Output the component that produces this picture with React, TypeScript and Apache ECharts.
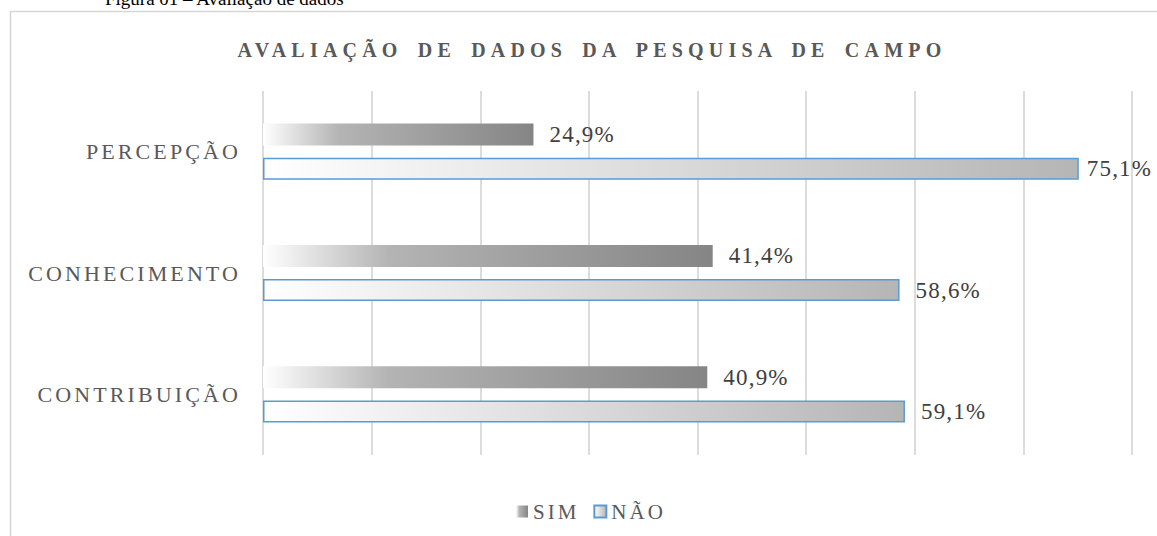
import React, { useEffect, useRef } from 'react';
import * as echarts from 'echarts';

const categories = ['PERCEPÇÃO', 'CONHECIMENTO', 'CONTRIBUIÇÃO'];
const simValues = [24.9, 41.4, 40.9];
const naoValues = [75.1, 58.6, 59.1];
const seriesNames = ['SIM', 'NÃO'];
const axisMin = 0;
const axisMax = 80;
const axisInterval = 10;
const chartTitle = 'AVALIAÇÃO DE DADOS DA PESQUISA DE CAMPO';
const caption = 'Figura 01 – Avaliação de dados';

const fmt = (v: number) => v.toFixed(1).replace('.', ',') + '%';
const SERIF = 'Liberation Serif';

export default function App() {
  const ref = useRef<HTMLDivElement>(null);

  useEffect(() => {
    const el = ref.current!;
    const chart = echarts.init(el, null, { renderer: 'svg' });

    const simGrad = new echarts.graphic.LinearGradient(0, 0, 1, 0, [
      { offset: 0, color: '#ffffff' },
      { offset: 0.28, color: '#b4b4b4' },
      { offset: 1, color: '#858585' },
    ]);
    const naoGrad = new echarts.graphic.LinearGradient(0, 0, 1, 0, [
      { offset: 0, color: '#ffffff' },
      { offset: 1, color: '#b5b5b5' },
    ]);

    const applySpacing = () => {
      el.querySelectorAll('text').forEach((t) => {
        const s = (t.textContent || '').trim();
        if (s === chartTitle) {
          t.style.letterSpacing = '5.2px';
          t.style.wordSpacing = '5px';
        } else if (categories.includes(s)) {
          t.style.letterSpacing = '3.1px';
        } else if (seriesNames.includes(s)) {
          t.style.letterSpacing = '3px';
        } else if (s.endsWith('%')) {
          t.style.letterSpacing = '1.2px';
        }
      });
    };

    chart.on('finished', applySpacing);

    chart.setOption({
      animation: false,
      backgroundColor: '#ffffff',
      graphic: [
        {
          type: 'rect',
          silent: true,
          shape: { x: 10.5, y: 11.5, width: 1300, height: 700 },
          style: { fill: 'none', stroke: '#d6d6d6', lineWidth: 1.5 },
        },
        {
          type: 'text',
          x: 105,
          y: 8,
          silent: true,
          style: {
            text: caption,
            font: '19px ' + SERIF,
            fill: '#000000',
            align: 'left',
            verticalAlign: 'bottom',
          },
        },
        {
          type: 'text',
          x: 592,
          y: 50,
          silent: true,
          style: {
            text: chartTitle,
            font: 'bold 20px ' + SERIF,
            fill: '#595959',
            align: 'center',
            verticalAlign: 'middle',
          },
        },
      ],
      legend: {
        data: seriesNames,
        left: 511,
        top: 496,
        icon: 'rect',
        itemWidth: 12,
        itemHeight: 12,
        itemGap: 23,
        textStyle: { fontFamily: SERIF, fontSize: 21, color: '#595959' },
      },
      grid: { left: 263, right: 25, top: 91, bottom: 81, containLabel: false },
      xAxis: {
        type: 'value',
        min: axisMin,
        max: axisMax,
        interval: axisInterval,
        axisLabel: { show: false },
        axisLine: { show: false },
        axisTick: { show: false },
        splitLine: { show: true, lineStyle: { color: '#d0d0d0', width: 1.5 } },
      },
      yAxis: {
        type: 'category',
        data: categories,
        inverse: true,
        axisLine: { show: false },
        axisTick: { show: false },
        axisLabel: {
          margin: 22,
          fontFamily: SERIF,
          fontSize: 22,
          color: '#595959',
        },
      },
      series: [
        {
          name: seriesNames[0],
          type: 'bar',
          data: simValues,
          barWidth: 22,
          barGap: '55%',
          itemStyle: { color: simGrad },
          label: {
            show: true,
            position: 'right',
            distance: 16,
            formatter: (p: any) => fmt(p.value),
            fontFamily: SERIF,
            fontSize: 23,
            color: '#404040',
          },
        },
        {
          name: seriesNames[1],
          type: 'bar',
          data: naoValues.map((v) => (v > 70 ? { value: v, label: { distance: 8 } } : v)),
          barWidth: 22,
          barGap: '55%',
          itemStyle: { color: naoGrad, borderColor: '#5b9bd5', borderWidth: 1.5 },
          label: {
            show: true,
            position: 'right',
            distance: 16,
            formatter: (p: any) => fmt(typeof p.value === 'number' ? p.value : p.data.value),
            fontFamily: SERIF,
            fontSize: 23,
            color: '#404040',
          },
        },
      ],
    });

    applySpacing();
    const t = setTimeout(applySpacing, 50);

    return () => {
      clearTimeout(t);
      chart.dispose();
    };
  }, []);

  return (
    <div
      ref={ref}
      style={{ position: 'fixed', left: 0, top: 0, width: 1157, height: 536 }}
    />
  );
}
